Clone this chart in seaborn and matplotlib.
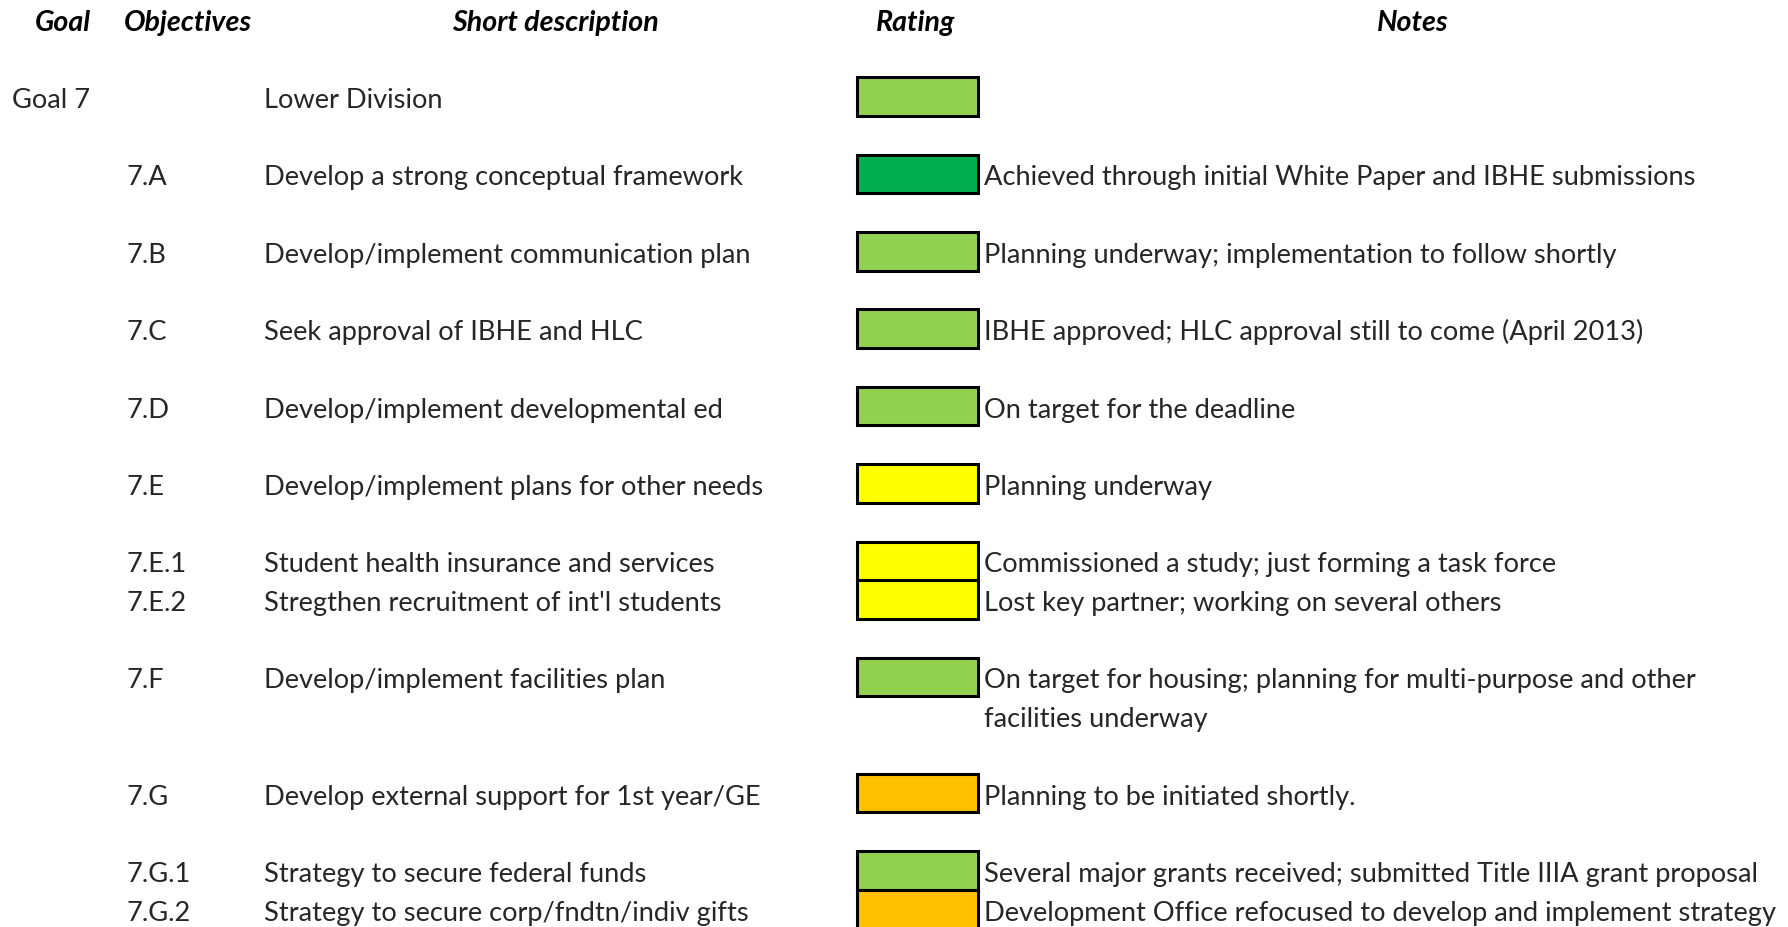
import matplotlib
matplotlib.use("Agg")
import matplotlib.pyplot as plt
import seaborn as sns
import pandas as pd

# table content
goals = ["Goal 7", "", "", "", "", "", "", "", "", "", "", ""]
objectives = ["", "7.A", "7.B", "7.C", "7.D", "7.E", "7.E.1", "7.E.2",
              "7.F", "7.G", "7.G.1", "7.G.2"]
descriptions = [
    "Lower Division",
    "Develop a strong conceptual framework",
    "Develop/implement communication plan",
    "Seek approval of IBHE and HLC",
    "Develop/implement developmental ed",
    "Develop/implement plans for other needs",
    "Student health insurance and services",
    "Stregthen recruitment of int'l students",
    "Develop/implement facilities plan",
    "Develop external support for 1st year/GE",
    "Strategy to secure federal funds",
    "Strategy to secure corp/fndtn/indiv gifts",
]
ratings = ["on track", "achieved", "on track", "on track", "on track",
           "caution", "caution", "caution", "on track", "at risk",
           "on track", "at risk"]
notes = [
    "",
    "Achieved through initial White Paper and IBHE submissions",
    "Planning underway; implementation to follow shortly",
    "IBHE approved; HLC approval still to come (April 2013)",
    "On target for the deadline",
    "Planning underway",
    "Commissioned a study; just forming a task force",
    "Lost key partner; working on several others",
    "On target for housing; planning for multi-purpose and other\nfacilities underway",
    "Planning to be initiated shortly.",
    "Several major grants received; submitted Title IIIA grant proposal",
    "Development Office refocused to develop and implement strategy",
]
headers = ["Goal", "Objectives", "Short description", "Rating", "Notes"]

rating_colors = {"achieved": "#00B050", "on track": "#92D050",
                 "caution": "#FFFF00", "at risk": "#FFC000"}

# line index of each row: blank line between groups, sub-items stacked
lines = []
k = 0
for i, code in enumerate(objectives):
    if i > 0:
        prev = objectives[i - 1]
        if not (code.count(".") == 2 and prev.count(".") == 2):
            k += 1
    lines.append(k)
    k += 1 + notes[i].count("\n")

df = pd.DataFrame({"line": lines, "rating": ratings, "box": 1})

W, H = 1788, 928
row_h = 38.7
y0 = 97.5
ylim = ((H - y0) / row_h, -y0 / row_h)

sns.set_theme(style="white")
plt.rcParams["font.family"] = ["Lato", "DejaVu Sans"]
fs = 19.6

fig = plt.figure(figsize=(W / 100, H / 100), dpi=100)
ax = fig.add_axes([0, 0, 1, 1])
ax.set_xlim(0, W)
ax.set_ylim(*ylim)
ax.axis("off")

# rating boxes in their own column
box_l, box_r = 856.5, 977.5
rax = fig.add_axes([box_l / W, 0, (box_r - box_l) / W, 1])
sns.barplot(data=df, x="box", y="line", hue="rating", palette=rating_colors,
            orient="y", native_scale=True, width=1, dodge=False, saturation=1,
            edgecolor="black", linewidth=2.2, legend=False, ax=rax)
for p in rax.patches:
    p.set_clip_on(False)
rax.set_xlim(0, 1)
rax.set_ylim(*ylim)
rax.axis("off")

off = 0.27
header_x = [63, 188, 555, 916, 1413]
for x, h in zip(header_x, headers):
    ax.text(x, -2 + off, h, ha="center", va="baseline", fontsize=20.6,
            fontweight="bold", fontstyle="italic", color="black")

for i, ln in enumerate(lines):
    ax.text(12, ln + off, goals[i], va="baseline", fontsize=fs)
    ax.text(126, ln + off, objectives[i], va="baseline", fontsize=fs)
    ax.text(264, ln + off, descriptions[i], va="baseline", fontsize=fs)
    for j, part in enumerate(notes[i].split("\n")):
        ax.text(984, ln + j + off, part, va="baseline", fontsize=fs)

fig.savefig("out.png", dpi=100)
